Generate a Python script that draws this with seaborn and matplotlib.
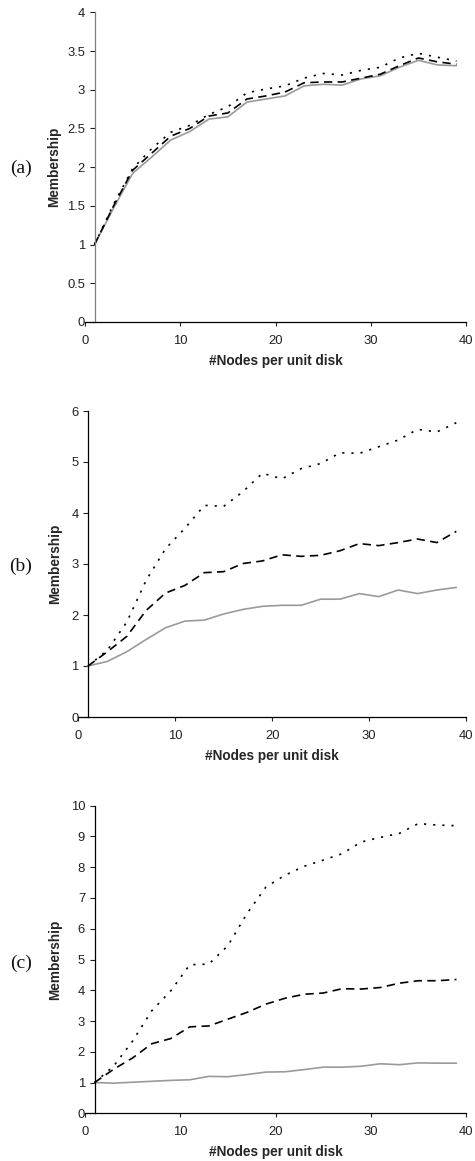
import numpy as np
import pandas as pd
import matplotlib
matplotlib.use("Agg")
import matplotlib.pyplot as plt
from matplotlib.ticker import MultipleLocator, FormatStrFormatter
import seaborn as sns

# Node density (x positions of the samples)
nodes = [1, 3, 5, 7, 9, 11, 13, 15, 17, 19, 21, 23, 25, 27, 29, 31, 33, 35, 37, 39]

# Panel (a)
a_solid = [1.00, 1.47, 1.92, 2.13, 2.35, 2.46, 2.62, 2.65, 2.84, 2.88,
           2.92, 3.05, 3.07, 3.06, 3.14, 3.18, 3.29, 3.38, 3.32, 3.31]
a_dashed = [1.00, 1.50, 1.96, 2.18, 2.40, 2.50, 2.66, 2.70, 2.88, 2.92,
            2.97, 3.09, 3.10, 3.10, 3.15, 3.20, 3.31, 3.41, 3.36, 3.33]
a_dotted = [1.00, 1.52, 1.98, 2.24, 2.45, 2.54, 2.68, 2.78, 2.96, 3.01,
            3.05, 3.15, 3.21, 3.19, 3.25, 3.29, 3.41, 3.47, 3.42, 3.37]

# Panel (b)
b_solid = [1.00, 1.09, 1.28, 1.52, 1.75, 1.88, 1.90, 2.02, 2.11, 2.17,
           2.19, 2.19, 2.31, 2.31, 2.42, 2.36, 2.49, 2.42, 2.49, 2.54]
b_dashed = [1.00, 1.28, 1.58, 2.09, 2.43, 2.58, 2.83, 2.85, 3.01, 3.06,
            3.18, 3.15, 3.17, 3.26, 3.40, 3.36, 3.42, 3.49, 3.42, 3.64]
b_dotted = [1.00, 1.31, 1.86, 2.68, 3.30, 3.70, 4.15, 4.13, 4.42, 4.78,
            4.67, 4.87, 4.97, 5.18, 5.17, 5.30, 5.43, 5.64, 5.59, 5.77]

# Panel (c)
c_solid = [1.00, 0.98, 1.01, 1.04, 1.07, 1.09, 1.20, 1.19, 1.26, 1.34,
           1.35, 1.42, 1.50, 1.50, 1.53, 1.61, 1.58, 1.64, 1.63, 1.63]
c_dashed = [1.00, 1.43, 1.80, 2.26, 2.43, 2.81, 2.84, 3.06, 3.28, 3.55,
            3.74, 3.87, 3.91, 4.05, 4.04, 4.09, 4.23, 4.31, 4.31, 4.35]
c_dotted = [1.00, 1.53, 2.35, 3.33, 3.98, 4.83, 4.85, 5.45, 6.49, 7.36,
            7.74, 8.03, 8.23, 8.44, 8.82, 8.97, 9.10, 9.42, 9.37, 9.35]

panel_tags = ["(a)", "(b)", "(c)"]
y_max = [4, 6, 10]
y_step = [0.5, 1, 1]
x_ticks = [0, 10, 20, 30, 40]
x_label = "#Nodes per unit disk"
y_label = "Membership"

series = {
    "(a)": {"solid": a_solid, "dashed": a_dashed, "dotted": a_dotted},
    "(b)": {"solid": b_solid, "dashed": b_dashed, "dotted": b_dotted},
    "(c)": {"solid": c_solid, "dashed": c_dashed, "dotted": c_dotted},
}

rows = []
for tag, group in series.items():
    for name, vals in group.items():
        for x, v in zip(nodes, vals):
            rows.append({"panel": tag, "series": name, "nodes": x, "membership": v})
df = pd.DataFrame(rows)

sns.set_theme(style="white")
plt.rcParams["font.family"] = ["Liberation Sans", "DejaVu Sans"]

W, H = 475, 1161
fig = plt.figure(figsize=(W / 100, H / 100), dpi=100)
fig.patch.set_facecolor("white")

# axes boxes in pixels: (left, right, top, bottom)
boxes = [(85, 466, 12.3, 322), (78.3, 466, 411, 717), (85, 466, 805.7, 1113.3)]
tag_y = [168, 566, 963]
ylabel_x = [-0.063, -0.043, -0.061]

palette = {"solid": "#9a9a9a", "dashed": "black", "dotted": "black"}
dashes = {"solid": "", "dashed": (5.0, 3.2), "dotted": (1.3, 4.2)}

for i, tag in enumerate(panel_tags):
    l, r, t, b = boxes[i]
    ax = fig.add_axes([l / W, 1 - b / H, (r - l) / W, (b - t) / H])
    sub = df[df["panel"] == tag]
    sns.lineplot(data=sub, x="nodes", y="membership", hue="series", style="series",
                 palette=palette, dashes=dashes, linewidth=1.2, legend=False,
                 ax=ax, estimator=None, sort=False)
    ax.set_xlim(0, 40)
    ax.set_ylim(0, y_max[i])
    ax.set_xticks(x_ticks)
    ax.yaxis.set_major_locator(MultipleLocator(y_step[i]))
    ax.yaxis.set_major_formatter(FormatStrFormatter("%g"))
    ax.set_facecolor("white")
    for s in ("top", "right"):
        ax.spines[s].set_visible(False)
    ax.spines["left"].set_position(("data", 1))
    ax.spines["left"].set_color("#808080" if i == 0 else "black")
    ax.spines["bottom"].set_color("black")
    ax.spines["left"].set_linewidth(0.9)
    ax.spines["bottom"].set_linewidth(0.9)
    ax.tick_params(axis="y", direction="out", length=3.8, width=0.8, pad=3.0,
                   labelsize=9.4, colors="#222222", left=True)
    ax.tick_params(axis="x", direction="out", length=3.0, width=0.8, pad=6.5,
                   labelsize=9.4, colors="#222222", bottom=True)
    ax.set_xlabel(x_label, fontsize=9.8, fontweight="bold", labelpad=5)
    ax.set_ylabel(y_label, fontsize=9.8, fontweight="bold")
    ax.yaxis.set_label_coords(ylabel_x[i], 0.5)
    ax.grid(False)
    fig.text(21 / W, 1 - tag_y[i] / H, tag, family="Liberation Serif",
             fontsize=14, ha="center", va="center", color="#111111")

fig.savefig("out.png", dpi=100, facecolor="white")
